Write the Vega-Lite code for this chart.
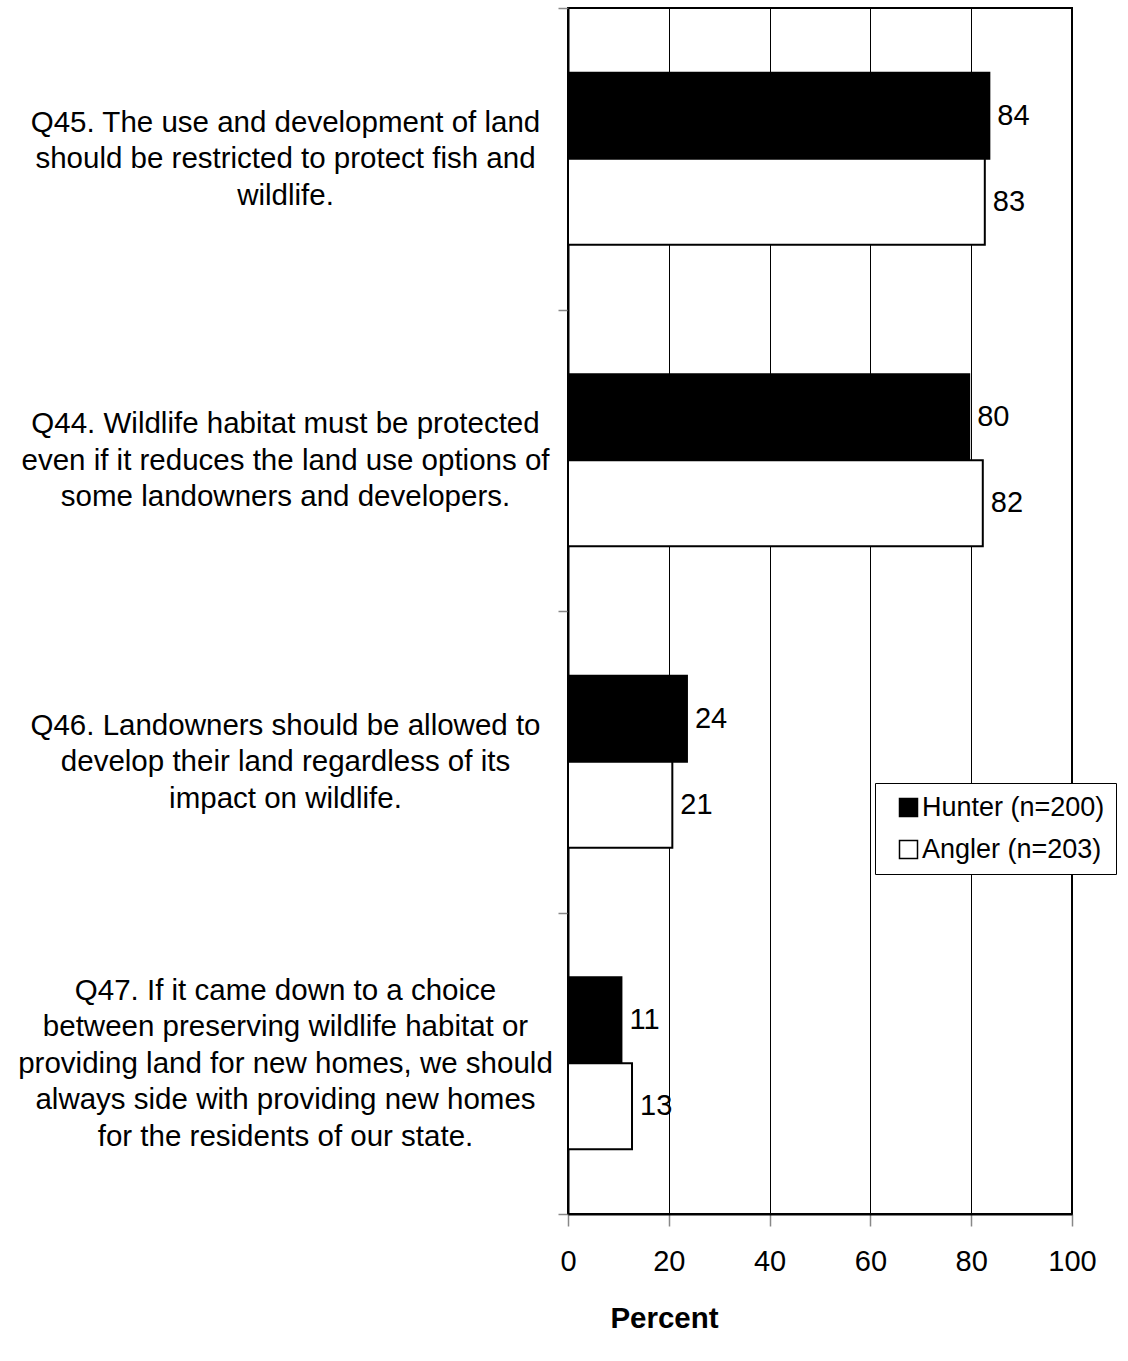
{
  "$schema": "https://vega.github.io/schema/vega-lite/v6.json",
  "width": 504,
  "height": 1206,
  "autosize": {"type": "none"},
  "padding": {"left": 568, "top": 8, "right": 56, "bottom": 147},
  "background": "white",
  "config": {"font": "Liberation Sans", "view": {"stroke": "black", "strokeWidth": 2}},
  "data": {"values": [
    {"question": "Q45. The use and development of land|should be restricted to protect fish and|wildlife.", "group": "Hunter (n=200)", "pct": 83.6},
    {"question": "Q45. The use and development of land|should be restricted to protect fish and|wildlife.", "group": "Angler (n=203)", "pct": 82.7},
    {"question": "Q44. Wildlife habitat must be protected|even if it reduces the land use options of|some landowners and developers.", "group": "Hunter (n=200)", "pct": 79.6},
    {"question": "Q44. Wildlife habitat must be protected|even if it reduces the land use options of|some landowners and developers.", "group": "Angler (n=203)", "pct": 82.3},
    {"question": "Q46. Landowners should be allowed to|develop their land regardless of its|impact on wildlife.", "group": "Hunter (n=200)", "pct": 23.6},
    {"question": "Q46. Landowners should be allowed to|develop their land regardless of its|impact on wildlife.", "group": "Angler (n=203)", "pct": 20.7},
    {"question": "Q47. If it came down to a choice|between preserving wildlife habitat or|providing land for new homes, we should|always side with providing new homes|for the residents of our state.", "group": "Hunter (n=200)", "pct": 10.6},
    {"question": "Q47. If it came down to a choice|between preserving wildlife habitat or|providing land for new homes, we should|always side with providing new homes|for the residents of our state.", "group": "Angler (n=203)", "pct": 12.7}
  ]},
  "encoding": {
    "y": {
      "field": "question", "type": "nominal", "sort": null,
      "scale": {"paddingInner": 0, "paddingOuter": 0},
      "axis": {
        "title": null,
        "labelExpr": "length(split(datum.label, '|')) < 5 ? split('|' + datum.label + '|', '|') : split(datum.label, '|')",
        "labelAlign": "center",
        "labelBaseline": "middle",
        "labelPadding": 273,
        "labelOffset": -73,
        "labelFontSize": 29.5,
        "labelLineHeight": 36.5,
        "labelColor": "black",
        "labelLimit": 1000,
        "labelOverlap": false,
        "tickBand": "extent",
        "tickSize": 10,
        "tickColor": "#888888",
        "tickWidth": 1.5,
        "domainColor": "black",
        "domainWidth": 2
      }
    },
    "yOffset": {
      "field": "group", "type": "nominal",
      "sort": ["Hunter (n=200)", "Angler (n=203)"],
      "scale": {"paddingInner": 0, "paddingOuter": 0.753}
    },
    "x": {
      "field": "pct", "type": "quantitative",
      "scale": {"domain": [0, 100], "nice": false},
      "axis": {
        "title": "Percent",
        "values": [0, 20, 40, 60, 80, 100],
        "grid": true,
        "gridColor": "black",
        "gridWidth": 1,
        "gridOpacity": 1,
        "tickSize": 12,
        "tickColor": "#888888",
        "tickWidth": 1.5,
        "labelFontSize": 29,
        "labelPadding": 21,
        "labelColor": "black",
        "labelFlush": false,
        "domainColor": "black",
        "domainWidth": 2,
        "titleFontSize": 29.5,
        "titleFontWeight": "bold",
        "titleColor": "black",
        "titleX": 96,
        "titleY": 104,
        "titleBaseline": "middle"
      }
    }
  },
  "layer": [
    {
      "mark": {"type": "bar", "stroke": "black", "strokeWidth": 2},
      "encoding": {
        "fill": {
          "field": "group", "type": "nominal",
          "scale": {"domain": ["Hunter (n=200)", "Angler (n=203)"], "range": ["black", "white"]},
          "legend": {
            "title": null,
            "orient": "none",
            "legendX": 307,
            "legendY": 775,
            "strokeColor": "black",
            "fillColor": "white",
            "padding": 11,
            "cornerRadius": 0,
            "symbolType": "square",
            "symbolSize": 324,
            "symbolStrokeColor": "black",
            "symbolStrokeWidth": 1.5,
            "symbolOffset": 9,
            "labelOffset": 0,
            "labelFontSize": 27,
            "labelColor": "black",
            "labelLimit": 400,
            "rowPadding": 14
          }
        }
      }
    },
    {
      "mark": {"type": "text", "align": "left", "baseline": "middle", "dx": 8, "fontSize": 29, "color": "black"},
      "encoding": {
        "text": {"field": "pct", "type": "quantitative", "format": ".0f"}
      }
    }
  ]
}
